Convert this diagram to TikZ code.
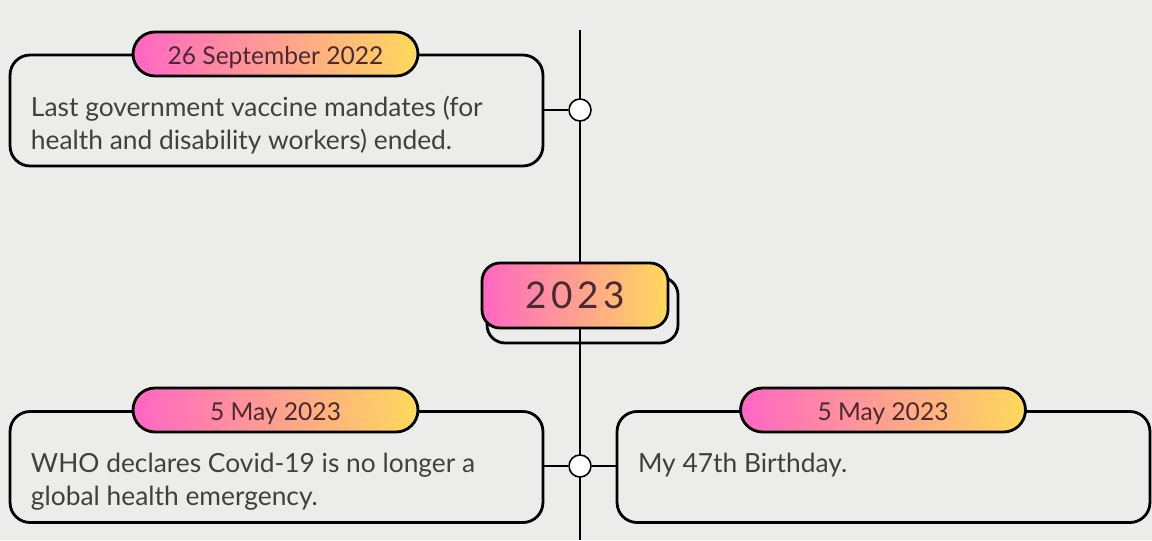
\documentclass[tikz,border=0pt]{standalone}
\usepackage{fontspec}
\setmainfont{Lato}
\usetikzlibrary{positioning, calc}
\definecolor{my_paper}{RGB}{236, 236, 234}
\definecolor{my_pink}{RGB}{255, 102, 196}
\definecolor{my_yellow}{RGB}{255, 217, 92}
\definecolor{my_ink}{RGB}{64, 64, 64}
\definecolor{my_tagink}{RGB}{75, 40, 50}
\tikzset {
  eventbox/.style = {draw, line width=1.6pt, rounded corners=0.4cm, rectangle, minimum width=10.66cm, minimum height=2.22cm},
  datetag/.style = {draw, line width=1.6pt, rounded corners=0.44cm, rectangle, left color=my_pink, right color=my_yellow, minimum width=5.7cm, minimum height=0.88cm, text height=13pt, text depth=1pt, text=my_tagink, font=\fontsize{14}{17}\selectfont},
  yeartag/.style = {draw, line width=1.6pt, rounded corners=0.36cm, rectangle, left color=my_pink, right color=my_yellow, minimum width=3.72cm, minimum height=1.3cm, text=my_tagink, font=\fontsize{21}{25}\selectfont\addfontfeature{LetterSpace=13}},
  yearshadow/.style = {draw, line width=1.6pt, rounded corners=0.36cm, rectangle, minimum width=3.82cm, minimum height=1.32cm},
  body/.style = {inner sep=0, align=left, text=my_ink, font=\fontsize{15}{18.7}\selectfont},
  knot/.style = {draw, circle, line width=0.9pt, fill=white, minimum size=0.44cm, inner sep=0},
  line/.style = {line width=0.9pt, color=black},
}

\begin{document}
\begin{tikzpicture}[x=0.02cm, y=-0.02cm]

    % paper
    \fill[my_paper] (0,0) rectangle (1152,540);

    \coordinate (top) at (580,30);
    \coordinate (bottom) at (580,540);
    \draw[line] (top) -- (bottom);

    \node[eventbox, name=boxA] (boxA) at (276.5,110.5) {};
    \node[datetag, name=tagA] (tagA) at (275.5,54) {26 September 2022};
    \node[body, below right=0.85cm and 0.44cm of boxA.north west] (textA) {Last government vaccine mandates (for\\health and disability workers) ended.};
    \node[knot, name=knotA] (knotA) at (580,110) {};
    \draw[line] (boxA.east |- knotA) -- (knotA.west);

    \node[yearshadow, name=yearback] (yearback) at (582.5,310) {};
    \node[yeartag, name=year] (year) at (575,295.5) {2023};

    \node[eventbox, name=boxB] (boxB) at (276.5,467) {};
    \node[datetag, name=tagB] (tagB) at (275.5,410) {5 May 2023};
    \node[body, below right=0.85cm and 0.44cm of boxB.north west] (textB) {WHO declares Covid-19 is no longer a\\global health emergency.};

    \node[eventbox, name=boxC] (boxC) at (883.5,467) {};
    \node[datetag, name=tagC] (tagC) at (883,410) {5 May 2023};
    \node[body, below right=0.85cm and 0.44cm of boxC.north west] (textC) {My 47th Birthday.};

    \node[knot, name=knotB] (knotB) at (580,466) {};
    \draw[line] (boxB.east |- knotB) -- (knotB.west);
    \draw[line] (knotB.east) -- (boxC.west |- knotB);

  \end{tikzpicture}
\end{document}
